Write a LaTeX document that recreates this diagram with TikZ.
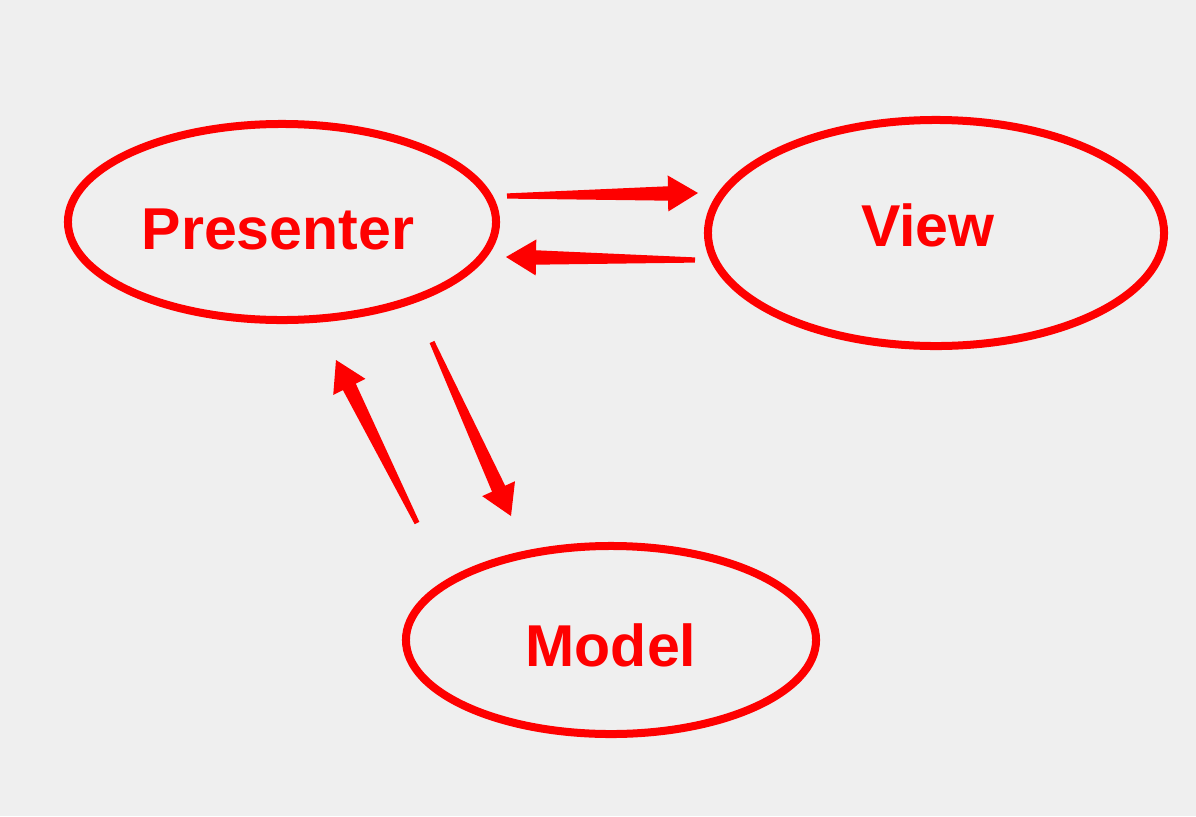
\documentclass[tikz,border=0pt]{standalone}
\usepackage{fontspec}
\setmainfont{Liberation Sans}
\usetikzlibrary{shapes.geometric,calc}
\definecolor{cred}{HTML}{fe0000}
\definecolor{cbg}{HTML}{efefef}

% tapered arrow from #1 to #2
\newcommand{\taperarrow}[2]{%
  \coordinate (tb) at ($(#2)!0.75cm!(#1)$);
  \fill[cred] ($(#1)!0.065cm!90:(#2)$) -- ($(tb)!0.18cm!90:(#2)$) -- ($(tb)!0.45cm!90:(#2)$)
    -- (#2) -- ($(tb)!0.45cm!-90:(#2)$) -- ($(tb)!0.18cm!-90:(#2)$) -- ($(#1)!0.065cm!-90:(#2)$) -- cycle;
}

\begin{document}
\begin{tikzpicture}[x=0.025cm, y=-0.025cm,
    part/.style={draw=cred, line width=0.2cm, ellipse, inner sep=0pt, text=cred,
      font=\fontsize{42}{50}\selectfont\bfseries}]
  \fill[cbg] (0,0) rectangle (1196,816);
  \useasboundingbox (0,0) rectangle (1196,816);

  \node[part, minimum width=10.7cm, minimum height=4.9cm, text height=1.36cm, text depth=0cm]
    (pres) at (282,222) {Presenter\kern0.2cm};
  \node[part, minimum width=11.4cm, minimum height=5.65cm, text height=1.06cm, text depth=0.4cm]
    (view) at (936,233) {View\kern0.4cm};
  \node[part, minimum width=10.25cm, minimum height=4.7cm, text height=1.3cm, text depth=0cm]
    (model) at (611,640) {Model};

  % arrow ends
  \coordinate (pv-s) at (507,196);
  \coordinate (pv-e) at (698,193);
  \coordinate (vp-s) at (695,260);
  \coordinate (vp-e) at (506,257);
  \coordinate (mp-s) at (417,523);
  \coordinate (mp-e) at (336,360);
  \coordinate (pm-s) at (432,342);
  \coordinate (pm-e) at (511,516);

  \taperarrow{pv-s}{pv-e}
  \taperarrow{vp-s}{vp-e}
  \taperarrow{mp-s}{mp-e}
  \taperarrow{pm-s}{pm-e}
\end{tikzpicture}
\end{document}
